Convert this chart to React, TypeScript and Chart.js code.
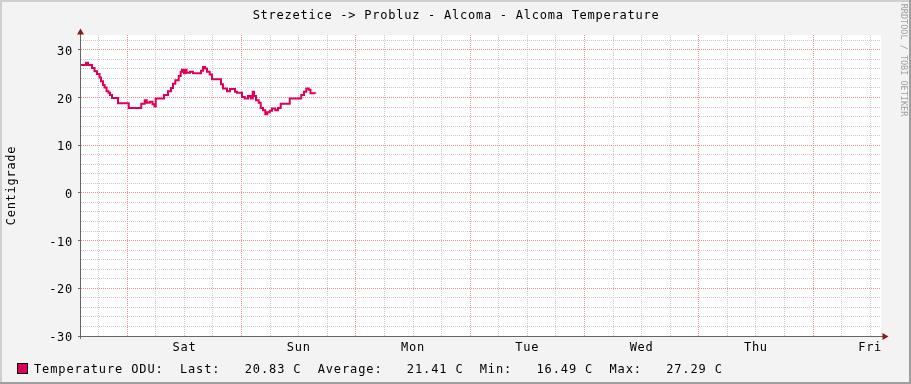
import React, { useEffect, useRef } from 'react';
import { Chart, registerables } from 'chart.js';

Chart.register(...registerables);

// ---- texts ----
const TITLE = 'Strezetice -> Probluz - Alcoma - Alcoma Temperature';
const Y_AXIS_TITLE = 'Centigrade';
const WATERMARK = 'RRDTOOL / TOBI OETIKER';
const SERIES_NAME = 'Temperature ODU';
const UNIT = 'C';
const STAT_NAMES = ['Last', 'Average', 'Min', 'Max'];
const STAT_VALUES = [20.83, 21.41, 16.49, 27.29];

// ---- x axis (hours from Friday 00:00) ----
const DAY_LABELS = ['Fri', 'Sat', 'Sun', 'Mon', 'Tue', 'Wed', 'Thu', 'Fri'];
const START_HOUR = 14.28; // graph starts Friday ~14:17
const SPAN_HOURS = 168; // one week
const MINOR_X_STEP = 6;
const MAJOR_X_STEP = 24;

// ---- y axis ----
const Y_MIN = -30;
const Y_MAX = 33.1;
const MINOR_Y_STEP = 2;
const MAJOR_Y_STEP = 10;

// ---- series: hours since graph start, temperature (°C) ----
const TIME_HOURS = [
  0, 1.05, 1.47, 2.31, 2.84, 3.36, 3.89, 4.2, 4.62, 4.94,
  5.36, 5.78, 6.09, 6.51, 7.77, 10.02, 12.66, 13.38, 13.8, 14.43,
  15.02, 15.44, 15.69, 17.43, 18.27, 18.9, 19.32, 19.8, 20.52, 20.94,
  21.21, 21.63, 21.9, 22.16, 22.89, 23.52, 25.2, 25.62, 26.04, 26.46,
  27.03, 27.51, 29.4, 29.82, 30.66, 31.29, 32.34, 32.76, 33.81, 34.38,
  35.07, 35.64, 36.06, 36.33, 36.75, 37.32, 37.74, 38.22, 38.7, 39.12,
  39.63, 40.11, 40.8, 41.37, 41.94, 43.83, 46.26, 46.83, 47.31, 47.82,
  48.2, 49.2,
];
const TEMPERATURE = [
  26.8, 27.29, 26.8, 26.2, 25.5, 24.9, 24.2, 23.4, 22.6, 22.1,
  21.3, 21.0, 20.5, 19.9, 18.8, 17.8, 18.7, 19.4, 18.9, 19.1,
  18.6, 18.1, 19.8, 20.5, 21.3, 22.0, 22.9, 23.6, 24.5, 25.4,
  25.8, 25.1, 25.8, 25.2, 25.4, 25.1, 25.6, 26.4, 26.1, 25.4,
  24.8, 23.8, 22.8, 21.9, 21.3, 21.8, 21.2, 21.0, 20.1, 19.8,
  20.3, 19.8, 21.2, 20.3, 19.4, 18.9, 17.8, 17.3, 16.49, 16.9,
  17.2, 17.7, 17.3, 17.8, 18.7, 19.8, 20.5, 21.2, 21.9, 21.6,
  20.9, 20.83,
];

// ---- styles ----
const FONT = '"DejaVu Sans Mono", monospace';
const LINE_COLOR = '#E0005A';
const MAJOR_GRID = '#f29090';
const MINOR_GRID = '#cccccc';
const AXIS_COLOR = '#666666';
const ARROW_COLOR = '#8b1a1a';

const isMajor = (value: number, step: number) => Math.abs(value % step) < 1e-6;

const rrdPlugin = {
  id: 'rrdDecor',
  beforeDraw(chart: any) {
    const ctx = chart.ctx as CanvasRenderingContext2D;
    const w = chart.width;
    const h = chart.height;
    const a = chart.chartArea;
    ctx.save();
    ctx.fillStyle = '#f3f3f3';
    ctx.fillRect(0, 0, w, h);
    ctx.fillStyle = '#cfcfcf';
    ctx.fillRect(0, 0, w, 2);
    ctx.fillRect(0, 0, 2, h);
    ctx.fillStyle = '#9e9e9e';
    ctx.fillRect(0, h - 2, w, 2);
    ctx.fillRect(w - 2, 0, 2, h);
    ctx.fillStyle = '#ffffff';
    ctx.fillRect(a.left, a.top, a.right - a.left, a.bottom - a.top);
    ctx.restore();
    (ctx as any).letterSpacing = '0.72px';
  },
  beforeDatasetsDraw(chart: any) {
    const ctx = chart.ctx as CanvasRenderingContext2D;
    const a = chart.chartArea;
    ctx.save();
    ctx.strokeStyle = AXIS_COLOR;
    ctx.lineWidth = 1;
    ctx.setLineDash([]);
    ctx.beginPath();
    ctx.moveTo(a.left - 0.5, a.bottom + 3);
    ctx.lineTo(a.left - 0.5, a.top - 3);
    ctx.moveTo(a.left - 3, a.bottom + 0.5);
    ctx.lineTo(a.right + 3, a.bottom + 0.5);
    ctx.stroke();
    ctx.fillStyle = ARROW_COLOR;
    ctx.beginPath();
    ctx.moveTo(a.left - 0.5, a.top - 6.5);
    ctx.lineTo(a.left - 4, a.top - 0.5);
    ctx.lineTo(a.left + 3, a.top - 0.5);
    ctx.closePath();
    ctx.fill();
    ctx.beginPath();
    ctx.moveTo(a.right + 7.5, a.bottom + 0.5);
    ctx.lineTo(a.right + 1.5, a.bottom - 3);
    ctx.lineTo(a.right + 1.5, a.bottom + 4);
    ctx.closePath();
    ctx.fill();
    ctx.restore();
  },
  afterDraw(chart: any) {
    const ctx = chart.ctx as CanvasRenderingContext2D;
    const a = chart.chartArea;
    const c: any = ctx;
    ctx.save();
    ctx.fillStyle = '#000000';
    // title
    c.letterSpacing = '0.75px';
    ctx.font = `12px ${FONT}`;
    ctx.textAlign = 'center';
    ctx.textBaseline = 'alphabetic';
    ctx.fillText(TITLE, chart.width / 2 + 0.5, 19);
    // y axis title
    ctx.save();
    c.letterSpacing = '0.72px';
    ctx.translate(11.5, (a.top + a.bottom) / 2);
    ctx.rotate(-Math.PI / 2);
    ctx.textBaseline = 'middle';
    ctx.fillText(Y_AXIS_TITLE, 0, 0);
    ctx.restore();
    // legend
    const legend =
      `${SERIES_NAME}:  ` +
      STAT_NAMES.map((n, i) => `${n}:${STAT_VALUES[i].toFixed(2).padStart(8)} ${UNIT}`).join('  ');
    ctx.fillStyle = LINE_COLOR;
    ctx.fillRect(17, 363, 10, 10);
    ctx.strokeStyle = '#000000';
    ctx.lineWidth = 1;
    ctx.strokeRect(17.5, 363.5, 10, 10);
    ctx.fillStyle = '#000000';
    c.letterSpacing = '0.88px';
    ctx.textAlign = 'left';
    ctx.textBaseline = 'alphabetic';
    ctx.fillText(legend, 34, 372.5);
    // watermark
    ctx.save();
    c.letterSpacing = '0px';
    ctx.fillStyle = '#a0a0a0';
    ctx.font = `8.5px ${FONT}`;
    ctx.translate(903.5, 60);
    ctx.rotate(Math.PI / 2);
    ctx.textAlign = 'center';
    ctx.textBaseline = 'middle';
    ctx.fillText(WATERMARK, 0, 0);
    ctx.restore();
    ctx.restore();
  },
};

export default function App() {
  const ref = useRef<HTMLCanvasElement>(null);

  useEffect(() => {
    if (!ref.current) return;
    const points = TIME_HOURS.map((h, i) => ({ x: START_HOUR + h, y: TEMPERATURE[i] }));
    const chart = new Chart(ref.current, {
      type: 'line',
      data: {
        datasets: [
          {
            label: SERIES_NAME,
            data: points,
            borderColor: LINE_COLOR,
            backgroundColor: LINE_COLOR,
            borderWidth: 2,
            pointRadius: 0,
            stepped: true,
            fill: false,
          },
        ],
      },
      options: {
        responsive: false,
        animation: false,
        devicePixelRatio: 1,
        layout: { padding: { left: 0, top: 35, right: 30, bottom: 0 } },
        plugins: {
          legend: { display: false },
          title: { display: false },
          tooltip: { enabled: false },
        },
        scales: {
          x: {
            type: 'linear',
            min: START_HOUR,
            max: START_HOUR + SPAN_HOURS,
            afterBuildTicks: (s: any) => {
              const t: any[] = [];
              for (let v = Math.ceil(START_HOUR / MINOR_X_STEP) * MINOR_X_STEP; v <= START_HOUR + SPAN_HOURS; v += MINOR_X_STEP) {
                t.push({ value: v });
              }
              s.ticks = t;
            },
            afterFit: (s: any) => {
              s.height = 48;
            },
            grid: {
              color: (c: any) => (c.tick && isMajor(c.tick.value, MAJOR_X_STEP) ? MAJOR_GRID : MINOR_GRID),
              lineWidth: 1,
              drawTicks: false,
            },
            border: { display: false, dash: [1, 1] },
            ticks: {
              autoSkip: false,
              maxRotation: 0,
              minRotation: 0,
              padding: 5,
              color: '#000000',
              font: { family: FONT, size: 12 },
              callback: (v: any) => {
                const n = Number(v);
                return n % MAJOR_X_STEP === MAJOR_X_STEP / 2 ? DAY_LABELS[Math.floor(n / MAJOR_X_STEP)] : '';
              },
            },
          },
          y: {
            type: 'linear',
            min: Y_MIN,
            max: Y_MAX,
            afterBuildTicks: (s: any) => {
              const t: any[] = [];
              for (let v = Y_MIN; v <= Y_MAX; v += MINOR_Y_STEP) t.push({ value: v });
              s.ticks = t;
            },
            afterFit: (s: any) => {
              s.width = 81;
            },
            grid: {
              color: (c: any) => (c.tick && isMajor(c.tick.value, MAJOR_Y_STEP) ? MAJOR_GRID : MINOR_GRID),
              lineWidth: 1,
              tickLength: 3,
              tickColor: (c: any) => (c.tick && isMajor(c.tick.value, MAJOR_Y_STEP) ? AXIS_COLOR : 'rgba(0,0,0,0)'),
            },
            border: { display: false, dash: [1, 1] },
            ticks: {
              autoSkip: false,
              padding: 5,
              labelOffset: 2,
              color: '#000000',
              font: { family: FONT, size: 12 },
              callback: (v: any) => {
                const n = Number(v);
                return isMajor(n, MAJOR_Y_STEP) ? String(n) : '';
              },
            },
          },
        },
      },
      plugins: [rrdPlugin],
    } as any);
    return () => chart.destroy();
  }, []);

  return (
    <div style={{ position: 'absolute', left: 0, top: 0, width: 911, height: 384 }}>
      <canvas ref={ref} width={911} height={384} style={{ display: 'block', width: 911, height: 384 }} />
    </div>
  );
}
